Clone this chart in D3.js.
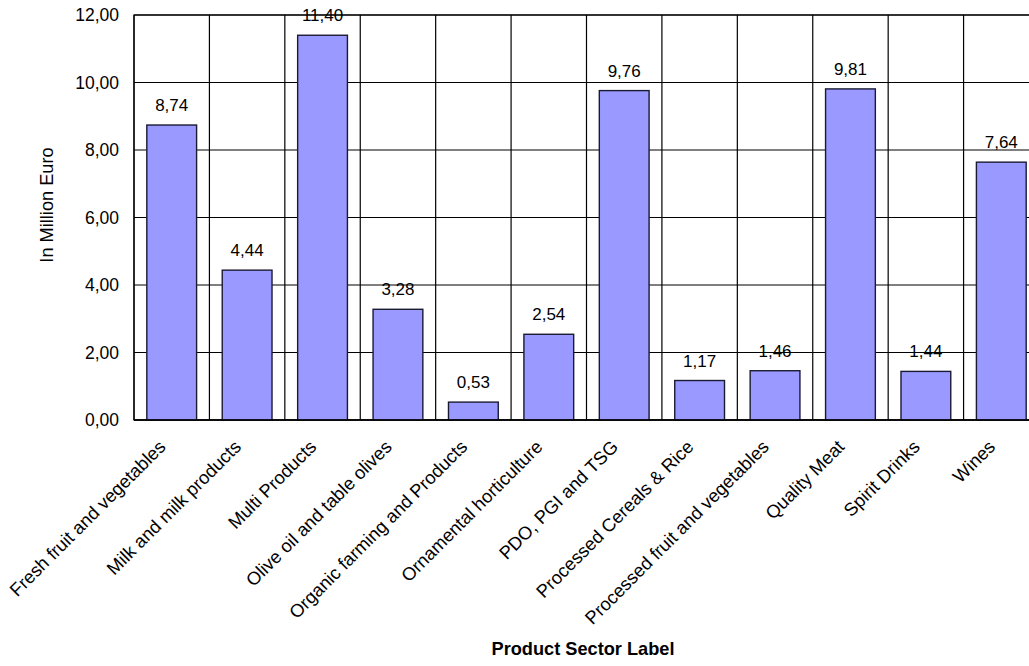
<!DOCTYPE html>
<html>
<head>
<meta charset="utf-8">
<script src="https://cdn.jsdelivr.net/npm/d3@7"></script>
<style>
  body { margin: 0; background: #fff; }
  svg { display: block; font-family: Arial, "Liberation Sans", sans-serif; }
</style>
</head>
<body>
<svg id="chart" width="1029" height="666"></svg>
<script>
const categories = [
  "Fresh fruit and vegetables",
  "Milk and milk products",
  "Multi Products",
  "Olive oil and table olives",
  "Organic farming and Products",
  "Ornamental horticulture",
  "PDO, PGI and TSG",
  "Processed Cereals & Rice",
  "Processed fruit and vegetables",
  "Quality Meat",
  "Spirit Drinks",
  "Wines"
];
const values = [8.74, 4.44, 11.40, 3.28, 0.53, 2.54, 9.76, 1.17, 1.46, 9.81, 1.44, 7.64];
const yTicks = [0, 2, 4, 6, 8, 10, 12];
const yTitle = "In Million Euro";
const xTitle = "Product Sector Label";

const fmt = v => v.toFixed(2).replace(".", ",");

const svg = d3.select("#chart");
const mLeft = 134, mTop = 15, plotW = 905, plotH = 405;

const x = d3.scaleBand().domain(categories).range([mLeft, mLeft + plotW]).paddingInner(0.34).paddingOuter(0.17);
const xb = d3.scaleBand().domain(categories).range([mLeft, mLeft + plotW]).padding(0);
const y = d3.scaleLinear().domain([0, 12]).range([mTop + plotH, mTop]);

// horizontal gridlines
svg.append("g").selectAll("line").data(yTicks).join("line")
  .attr("x1", mLeft).attr("x2", mLeft + plotW)
  .attr("y1", d => y(d)).attr("y2", d => y(d))
  .attr("stroke", "#000").attr("stroke-width", 1.2);

// vertical gridlines at category boundaries
svg.append("g").selectAll("line").data(categories).join("line")
  .attr("x1", d => xb(d)).attr("x2", d => xb(d))
  .attr("y1", mTop).attr("y2", mTop + plotH)
  .attr("stroke", "#000").attr("stroke-width", 1.2);

// plot border
svg.append("rect")
  .attr("x", mLeft).attr("y", mTop).attr("width", plotW).attr("height", plotH)
  .attr("fill", "none").attr("stroke", "#000").attr("stroke-width", 1.2);

// bars
svg.append("g").selectAll("rect").data(values).join("rect")
  .attr("x", (d, i) => x(categories[i]))
  .attr("y", d => y(d))
  .attr("width", x.bandwidth())
  .attr("height", d => y(0) - y(d))
  .attr("fill", "#9999FF")
  .attr("stroke", "#1a1a33").attr("stroke-width", 1.4);

// bottom axis line on top
svg.append("line")
  .attr("x1", mLeft).attr("x2", mLeft + plotW)
  .attr("y1", y(0)).attr("y2", y(0))
  .attr("stroke", "#000").attr("stroke-width", 1.6);

// value labels
svg.append("g").selectAll("text").data(values).join("text")
  .attr("x", (d, i) => x(categories[i]) + x.bandwidth() / 2)
  .attr("y", d => y(d) - 14)
  .attr("text-anchor", "middle")
  .attr("font-size", 17)
  .attr("fill", "#000")
  .text(d => fmt(d));

// y tick labels
svg.append("g").selectAll("text").data(yTicks).join("text")
  .attr("x", mLeft - 15)
  .attr("y", d => y(d))
  .attr("dy", "0.36em")
  .attr("text-anchor", "end")
  .attr("font-size", 17.5)
  .attr("fill", "#000")
  .text(d => fmt(d));

// x category labels
svg.append("g").selectAll("text").data(categories).join("text")
  .attr("text-anchor", "end")
  .attr("font-size", 18.3)
  .attr("fill", "#000")
  .attr("transform", d => `translate(${xb(d) + xb.bandwidth() / 2 - 5},${y(0) + 28}) rotate(-45)`)
  .text(d => d);

// y title
svg.append("text")
  .attr("transform", `translate(53,205) rotate(-90)`)
  .attr("text-anchor", "middle")
  .attr("font-size", 18.2)
  .attr("fill", "#000")
  .text(yTitle);

// x title
svg.append("text")
  .attr("x", 583).attr("y", 655)
  .attr("text-anchor", "middle")
  .attr("font-size", 18.2)
  .attr("font-weight", "bold")
  .attr("fill", "#000")
  .text(xTitle);
</script>
</body>
</html>
